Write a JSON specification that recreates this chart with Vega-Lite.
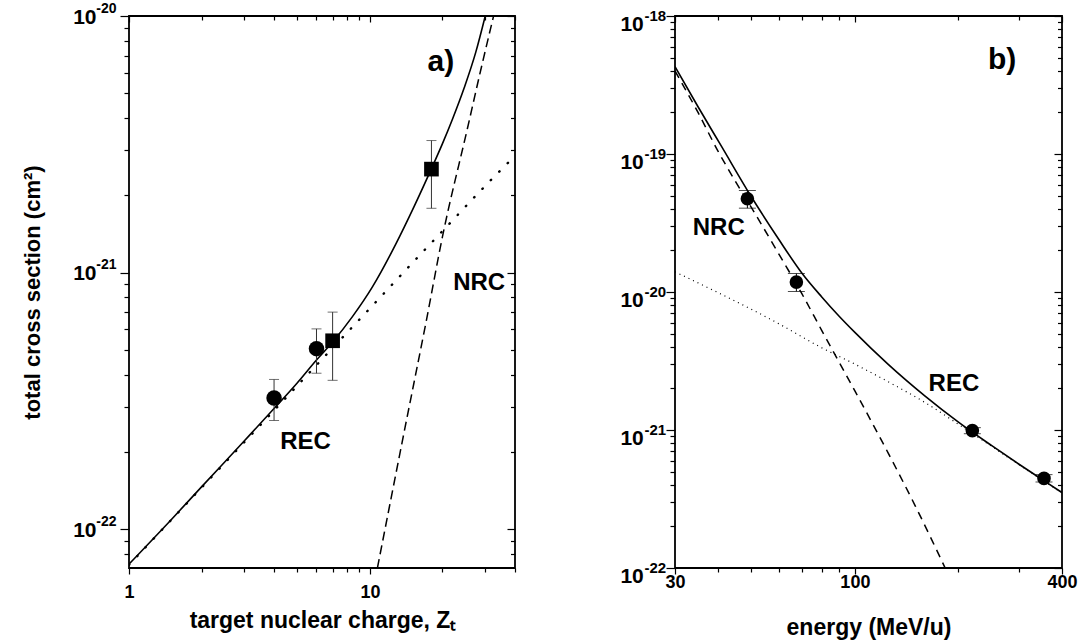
{
  "$schema": "https://vega.github.io/schema/vega-lite/v6.json",
  "background": "white",
  "padding": {"left": 20, "top": 0, "right": 5, "bottom": 0},
  "spacing": 102,
  "config": {
    "view": {"stroke": "black", "strokeWidth": 1.8},
    "axis": {"grid": false, "domain": false, "tickColor": "black", "tickWidth": 1.2, "labelColor": "black", "titleColor": "black", "labelFont": "Liberation Sans", "titleFont": "Liberation Sans", "labelFontWeight": "bold", "titleFontWeight": "bold", "labelFlush": false, "labelOverlap": false},
    "text": {"font": "Liberation Sans", "fontWeight": "bold", "color": "black"}
  },
  "datasets": {
    "a_total": [{"Z":1,"sigma":7.3e-23},{"Z":1.5,"sigma":1.09e-22},{"Z":2,"sigma":1.46e-22},{"Z":3,"sigma":2.2e-22},{"Z":4,"sigma":2.95e-22},{"Z":5,"sigma":3.72e-22},{"Z":6,"sigma":4.56e-22},{"Z":7,"sigma":5.36e-22},{"Z":8.46,"sigma":6.73e-22},{"Z":10.24,"sigma":8.79e-22},{"Z":12.8,"sigma":1.29e-21},{"Z":15.26,"sigma":1.81e-21},{"Z":18,"sigma":2.54e-21},{"Z":20,"sigma":3.18e-21},{"Z":22,"sigma":3.96e-21},{"Z":24.6,"sigma":5.24e-21},{"Z":27.5,"sigma":7.23e-21},{"Z":30.1,"sigma":1.0e-20}],
    "a_rec": [{"Z":1,"sigma":7.25e-23},{"Z":2,"sigma":1.45e-22},{"Z":4,"sigma":2.9e-22},{"Z":7,"sigma":5.08e-22},{"Z":10,"sigma":7.25e-22},{"Z":15,"sigma":1.09e-21},{"Z":20,"sigma":1.45e-21},{"Z":30,"sigma":2.17e-21},{"Z":40,"sigma":2.85e-21}],
    "a_nrc": [{"Z":10.74,"sigma":7.05e-23},{"Z":12,"sigma":1.2e-22},{"Z":14,"sigma":2.5e-22},{"Z":17.2,"sigma":6.6e-22},{"Z":20,"sigma":1.38e-21},{"Z":25.4,"sigma":3.65e-21},{"Z":29,"sigma":6.3e-21},{"Z":32.6,"sigma":1.0e-20}],
    "a_points": [{"Z":4,"sigma":3.24e-22,"lo":2.65e-22,"hi":3.83e-22,"marker":"circle"},{"Z":6,"sigma":5.05e-22,"lo":4.05e-22,"hi":6.03e-22,"marker":"circle"},{"Z":7,"sigma":5.42e-22,"lo":3.8e-22,"hi":7.01e-22,"marker":"square"},{"Z":18,"sigma":2.53e-21,"lo":1.78e-21,"hi":3.27e-21,"marker":"square"}],
    "b_total": [{"E":30,"sigma":4.3e-19},{"E":35,"sigma":2.2e-19},{"E":41,"sigma":1.13e-19},{"E":50,"sigma":4.9e-20},{"E":60,"sigma":2.42e-20},{"E":70,"sigma":1.38e-20},{"E":80,"sigma":9.25e-21},{"E":90,"sigma":6.68e-21},{"E":100,"sigma":5.1e-21},{"E":125,"sigma":2.99e-21},{"E":160,"sigma":1.76e-21},{"E":200,"sigma":1.14e-21},{"E":250,"sigma":7.7e-22},{"E":300,"sigma":5.65e-22},{"E":355,"sigma":4.28e-22},{"E":400,"sigma":3.52e-22}],
    "b_rec": [{"E":30,"sigma":1.4e-20},{"E":40,"sigma":9.9e-21},{"E":50,"sigma":7.5e-21},{"E":60,"sigma":5.9e-21},{"E":80,"sigma":3.95e-21},{"E":100,"sigma":3.0e-21},{"E":130,"sigma":2.12e-21},{"E":160,"sigma":1.58e-21},{"E":200,"sigma":1.1e-21},{"E":250,"sigma":7.6e-22},{"E":300,"sigma":5.6e-22},{"E":355,"sigma":4.25e-22},{"E":400,"sigma":3.5e-22}],
    "b_nrc": [{"E":30,"sigma":4.0e-19},{"E":35,"sigma":2.0e-19},{"E":40,"sigma":1.05e-19},{"E":45,"sigma":6.3e-20},{"E":50,"sigma":4.1e-20},{"E":60,"sigma":1.9e-20},{"E":70,"sigma":9.8e-21},{"E":80,"sigma":5.3e-21},{"E":100,"sigma":1.92e-21},{"E":125,"sigma":6.8e-22},{"E":150,"sigma":2.8e-22},{"E":183,"sigma":1.0e-22}],
    "b_points": [{"E":48.7,"sigma":4.74e-20,"lo":4.05e-20,"hi":5.44e-20},{"E":67.6,"sigma":1.18e-20,"lo":1.01e-20,"hi":1.36e-20},{"E":219.5,"sigma":9.9e-22,"lo":9.4e-22,"hi":1.04e-21},{"E":354.6,"sigma":4.46e-22,"lo":4.2e-22,"hi":4.75e-22}],
    "one": [{}]
  },
  "hconcat": [
    {
      "width": 386,
      "height": 552,
      "resolve": {"axis": {"x": "independent", "y": "independent"}},
      "layer": [
        {
          "data": {"name": "a_total"},
          "mark": {"type": "line", "color": "black", "strokeWidth": 1.6, "interpolate": "monotone", "clip": true},
          "encoding": {
            "x": {"field": "Z", "type": "quantitative", "scale": {"type": "log", "domain": [1, 40], "nice": false},
                  "axis": {"orient": "bottom", "values": [1, 10], "labelExpr": "format(datum.value, 'd')", "tickSize": 6, "labelPadding": 9, "labelFontSize": 18, "labelFlush": false, "labelOverlap": false, "title": "target nuclear charge, Z\u209c", "titleFontSize": 23, "titlePadding": 8}},
            "y": {"field": "sigma", "type": "quantitative", "scale": {"type": "log", "domain": [7.05e-23, 1e-20], "nice": false},
                  "axis": {"orient": "left", "values": [1e-22, 1e-21, 1e-20], "ticks": false, "tickSize": 0, "labelExpr": "'10'", "labelFontSize": 21, "labelPadding": 33, "labelOffset": 1, "labelFlush": false, "labelOverlap": false, "title": "total cross section (cm\u00b2)", "titleFontSize": 22, "titlePadding": 29, "minExtent": 56, "maxExtent": 56}}
          }
        },
        {
          "data": {"name": "a_rec"},
          "mark": {"type": "line", "color": "black", "strokeWidth": 2.4, "strokeDash": [0.5, 11.5], "strokeCap": "round", "interpolate": "monotone", "clip": true},
          "encoding": {
            "x": {"field": "Z", "type": "quantitative", "scale": {"type": "log", "domain": [1, 40], "nice": false},
                  "axis": {"orient": "bottom", "values": [2, 3, 4, 5, 6, 7, 8, 9, 20, 30, 40], "labels": false, "tickSize": 4, "title": null}},
            "y": {"field": "sigma", "type": "quantitative", "scale": {"type": "log", "domain": [7.05e-23, 1e-20], "nice": false},
                  "axis": {"orient": "left", "values": [1e-22, 1e-21, 1e-20], "ticks": false, "tickSize": 0, "labelExpr": "'-' + round(-log(datum.value)/LN10)", "labelFontSize": 14, "labelPadding": 13, "labelOffset": -8, "labelFlush": false, "labelOverlap": false, "title": null}}
          }
        },
        {
          "data": {"name": "a_nrc"},
          "mark": {"type": "line", "color": "black", "strokeWidth": 1.5, "strokeDash": [9, 5], "interpolate": "monotone", "clip": true},
          "encoding": {
            "x": {"field": "Z", "type": "quantitative", "scale": {"type": "log", "domain": [1, 40], "nice": false},
                  "axis": {"orient": "top", "values": [1, 10], "labels": false, "tickSize": -6, "title": null}},
            "y": {"field": "sigma", "type": "quantitative", "scale": {"type": "log", "domain": [7.05e-23, 1e-20], "nice": false},
                  "axis": {"orient": "left", "values": [1e-22, 1e-21, 1e-20], "labels": false, "tickSize": 9, "title": null}}
          }
        },
        {
          "data": {"name": "a_points"},
          "mark": {"type": "rule", "color": "#333333", "strokeWidth": 1},
          "encoding": {
            "x": {"field": "Z", "type": "quantitative", "scale": {"type": "log", "domain": [1, 40], "nice": false},
                  "axis": {"orient": "top", "values": [2, 3, 4, 5, 6, 7, 8, 9, 20, 30, 40], "labels": false, "tickSize": -4, "title": null}},
            "y": {"field": "lo", "type": "quantitative", "scale": {"type": "log", "domain": [7.05e-23, 1e-20], "nice": false},
                  "axis": {"orient": "left", "values": [8e-23, 9e-23, 2e-22, 3e-22, 4e-22, 5e-22, 6e-22, 7e-22, 8e-22, 9e-22, 2e-21, 3e-21, 4e-21, 5e-21, 6e-21, 7e-21, 8e-21, 9e-21], "labels": false, "tickSize": 5, "title": null}},
            "y2": {"field": "hi"}
          }
        },
        {
          "data": {"name": "a_points"},
          "mark": {"type": "tick", "orient": "horizontal", "color": "#333333", "size": 10, "thickness": 1},
          "encoding": {
            "x": {"field": "Z", "type": "quantitative", "scale": {"type": "log", "domain": [1, 40], "nice": false}, "axis": null},
            "y": {"field": "lo", "type": "quantitative", "scale": {"type": "log", "domain": [7.05e-23, 1e-20], "nice": false},
                  "axis": {"orient": "right", "values": [1e-22, 1e-21, 1e-20], "labels": false, "tickSize": -8, "title": null}}
          }
        },
        {
          "data": {"name": "a_points"},
          "mark": {"type": "tick", "orient": "horizontal", "color": "#333333", "size": 10, "thickness": 1},
          "encoding": {
            "x": {"field": "Z", "type": "quantitative", "scale": {"type": "log", "domain": [1, 40], "nice": false}, "axis": null},
            "y": {"field": "hi", "type": "quantitative", "scale": {"type": "log", "domain": [7.05e-23, 1e-20], "nice": false},
                  "axis": {"orient": "right", "values": [8e-23, 9e-23, 2e-22, 3e-22, 4e-22, 5e-22, 6e-22, 7e-22, 8e-22, 9e-22, 2e-21, 3e-21, 4e-21, 5e-21, 6e-21, 7e-21, 8e-21, 9e-21], "labels": false, "tickSize": -4.5, "title": null}}
          }
        },
        {
          "data": {"name": "a_points"},
          "transform": [{"filter": "datum.marker == 'circle'"}],
          "mark": {"type": "point", "shape": "circle", "filled": true, "color": "black", "opacity": 1, "size": 240},
          "encoding": {
            "x": {"field": "Z", "type": "quantitative", "scale": {"type": "log", "domain": [1, 40], "nice": false}, "axis": null},
            "y": {"field": "sigma", "type": "quantitative", "scale": {"type": "log", "domain": [7.05e-23, 1e-20], "nice": false}, "axis": null}
          }
        },
        {
          "data": {"name": "a_points"},
          "transform": [{"filter": "datum.marker == 'square'"}],
          "mark": {"type": "point", "shape": "square", "filled": true, "color": "black", "opacity": 1, "size": 215},
          "encoding": {
            "x": {"field": "Z", "type": "quantitative", "scale": {"type": "log", "domain": [1, 40], "nice": false}, "axis": null},
            "y": {"field": "sigma", "type": "quantitative", "scale": {"type": "log", "domain": [7.05e-23, 1e-20], "nice": false}, "axis": null}
          }
        },
        {
          "data": {"name": "one"},
          "mark": {"type": "text", "text": "a)", "fontSize": 30, "fontWeight": "bold", "font": "Liberation Sans", "color": "black", "align": "center", "baseline": "middle"},
          "encoding": {
            "x": {"datum": 19.7, "type": "quantitative", "scale": {"type": "log", "domain": [1, 40], "nice": false}, "axis": null},
            "y": {"datum": 6.6e-21, "type": "quantitative", "scale": {"type": "log", "domain": [7.05e-23, 1e-20], "nice": false}, "axis": null}
          }
        },
        {
          "data": {"name": "one"},
          "mark": {"type": "text", "text": "REC", "fontSize": 24, "fontWeight": "bold", "font": "Liberation Sans", "color": "black", "align": "center", "baseline": "middle"},
          "encoding": {
            "x": {"datum": 5.4, "type": "quantitative", "scale": {"type": "log", "domain": [1, 40], "nice": false}, "axis": null},
            "y": {"datum": 2.18e-22, "type": "quantitative", "scale": {"type": "log", "domain": [7.05e-23, 1e-20], "nice": false}, "axis": null}
          }
        },
        {
          "data": {"name": "one"},
          "mark": {"type": "text", "text": "NRC", "fontSize": 24, "fontWeight": "bold", "font": "Liberation Sans", "color": "black", "align": "center", "baseline": "middle"},
          "encoding": {
            "x": {"datum": 28.4, "type": "quantitative", "scale": {"type": "log", "domain": [1, 40], "nice": false}, "axis": null},
            "y": {"datum": 9.1e-22, "type": "quantitative", "scale": {"type": "log", "domain": [7.05e-23, 1e-20], "nice": false}, "axis": null}
          }
        }
      ]
    },
    {
      "width": 387,
      "height": 552,
      "resolve": {"axis": {"x": "independent", "y": "independent"}},
      "layer": [
        {
          "data": {"name": "b_total"},
          "mark": {"type": "line", "color": "black", "strokeWidth": 1.6, "interpolate": "monotone", "clip": true},
          "encoding": {
            "x": {"field": "E", "type": "quantitative", "scale": {"type": "log", "domain": [30, 400], "nice": false},
                  "axis": {"orient": "bottom", "values": [30, 100, 400], "labelExpr": "format(datum.value, 'd')", "tickSize": 6, "labelPadding": -1, "labelFontSize": 18, "labelFlush": false, "labelOverlap": false, "title": "energy (MeV/u)", "titleFontSize": 23, "titlePadding": 25}},
            "y": {"field": "sigma", "type": "quantitative", "scale": {"type": "log", "domain": [1e-22, 1e-18], "nice": false},
                  "axis": {"orient": "left", "values": [1e-22, 1e-21, 1e-20, 1e-19, 1e-18], "ticks": false, "tickSize": 0, "labelExpr": "'10'", "labelFontSize": 21, "labelPadding": 31.7, "labelOffset": 8.5, "labelFlush": false, "labelOverlap": false, "title": null}}
          }
        },
        {
          "data": {"name": "b_rec"},
          "mark": {"type": "line", "color": "black", "strokeWidth": 1.2, "strokeDash": [1, 4], "interpolate": "monotone", "clip": true},
          "encoding": {
            "x": {"field": "E", "type": "quantitative", "scale": {"type": "log", "domain": [30, 400], "nice": false},
                  "axis": {"orient": "bottom", "values": [40, 50, 60, 70, 80, 90, 200, 300], "labels": false, "tickSize": 4, "title": null}},
            "y": {"field": "sigma", "type": "quantitative", "scale": {"type": "log", "domain": [1e-22, 1e-18], "nice": false},
                  "axis": {"orient": "left", "values": [1e-22, 1e-21, 1e-20, 1e-19, 1e-18], "ticks": false, "tickSize": 0, "labelExpr": "'-' + round(-log(datum.value)/LN10)", "labelFontSize": 15, "labelPadding": 9.3, "labelOffset": -1, "labelFlush": false, "labelOverlap": false, "title": null}}
          }
        },
        {
          "data": {"name": "b_nrc"},
          "mark": {"type": "line", "color": "black", "strokeWidth": 1.5, "strokeDash": [8, 6], "interpolate": "monotone", "clip": true},
          "encoding": {
            "x": {"field": "E", "type": "quantitative", "scale": {"type": "log", "domain": [30, 400], "nice": false},
                  "axis": {"orient": "top", "values": [30, 100, 400], "labels": false, "tickSize": -6, "title": null}},
            "y": {"field": "sigma", "type": "quantitative", "scale": {"type": "log", "domain": [1e-22, 1e-18], "nice": false},
                  "axis": {"orient": "left", "values": [1e-22, 1e-21, 1e-20, 1e-19, 1e-18], "labels": false, "tickSize": 9, "title": null}}
          }
        },
        {
          "data": {"name": "b_points"},
          "mark": {"type": "rule", "color": "black", "strokeWidth": 1},
          "encoding": {
            "x": {"field": "E", "type": "quantitative", "scale": {"type": "log", "domain": [30, 400], "nice": false},
                  "axis": {"orient": "top", "values": [40, 50, 60, 70, 80, 90, 200, 300], "labels": false, "tickSize": -4, "title": null}},
            "y": {"field": "lo", "type": "quantitative", "scale": {"type": "log", "domain": [1e-22, 1e-18], "nice": false},
                  "axis": {"orient": "left", "values": [2e-22, 3e-22, 4e-22, 5e-22, 6e-22, 7e-22, 8e-22, 9e-22, 2e-21, 3e-21, 4e-21, 5e-21, 6e-21, 7e-21, 8e-21, 9e-21, 2e-20, 3e-20, 4e-20, 5e-20, 6e-20, 7e-20, 8e-20, 9e-20, 2e-19, 3e-19, 4e-19, 5e-19, 6e-19, 7e-19, 8e-19, 9e-19], "labels": false, "tickSize": 5, "title": null}},
            "y2": {"field": "hi"}
          }
        },
        {
          "data": {"name": "b_points"},
          "mark": {"type": "tick", "orient": "horizontal", "color": "black", "size": 17, "thickness": 1},
          "encoding": {
            "x": {"field": "E", "type": "quantitative", "scale": {"type": "log", "domain": [30, 400], "nice": false}, "axis": null},
            "y": {"field": "lo", "type": "quantitative", "scale": {"type": "log", "domain": [1e-22, 1e-18], "nice": false},
                  "axis": {"orient": "right", "values": [1e-22, 1e-21, 1e-20, 1e-19, 1e-18], "labels": false, "tickSize": -8, "title": null}}
          }
        },
        {
          "data": {"name": "b_points"},
          "mark": {"type": "tick", "orient": "horizontal", "color": "black", "size": 17, "thickness": 1},
          "encoding": {
            "x": {"field": "E", "type": "quantitative", "scale": {"type": "log", "domain": [30, 400], "nice": false}, "axis": null},
            "y": {"field": "hi", "type": "quantitative", "scale": {"type": "log", "domain": [1e-22, 1e-18], "nice": false},
                  "axis": {"orient": "right", "values": [2e-22, 3e-22, 4e-22, 5e-22, 6e-22, 7e-22, 8e-22, 9e-22, 2e-21, 3e-21, 4e-21, 5e-21, 6e-21, 7e-21, 8e-21, 9e-21, 2e-20, 3e-20, 4e-20, 5e-20, 6e-20, 7e-20, 8e-20, 9e-20, 2e-19, 3e-19, 4e-19, 5e-19, 6e-19, 7e-19, 8e-19, 9e-19], "labels": false, "tickSize": -4.5, "title": null}}
          }
        },
        {
          "data": {"name": "b_points"},
          "mark": {"type": "point", "shape": "circle", "filled": true, "color": "black", "opacity": 1, "size": 185},
          "encoding": {
            "x": {"field": "E", "type": "quantitative", "scale": {"type": "log", "domain": [30, 400], "nice": false}, "axis": null},
            "y": {"field": "sigma", "type": "quantitative", "scale": {"type": "log", "domain": [1e-22, 1e-18], "nice": false}, "axis": null}
          }
        },
        {
          "data": {"name": "one"},
          "mark": {"type": "text", "text": "b)", "fontSize": 30, "fontWeight": "bold", "font": "Liberation Sans", "color": "black", "align": "center", "baseline": "middle"},
          "encoding": {
            "x": {"datum": 268, "type": "quantitative", "scale": {"type": "log", "domain": [30, 400], "nice": false}, "axis": null},
            "y": {"datum": 4.8e-19, "type": "quantitative", "scale": {"type": "log", "domain": [1e-22, 1e-18], "nice": false}, "axis": null}
          }
        },
        {
          "data": {"name": "one"},
          "mark": {"type": "text", "text": "NRC", "fontSize": 24, "fontWeight": "bold", "font": "Liberation Sans", "color": "black", "align": "center", "baseline": "middle"},
          "encoding": {
            "x": {"datum": 40.2, "type": "quantitative", "scale": {"type": "log", "domain": [30, 400], "nice": false}, "axis": null},
            "y": {"datum": 2.9e-20, "type": "quantitative", "scale": {"type": "log", "domain": [1e-22, 1e-18], "nice": false}, "axis": null}
          }
        },
        {
          "data": {"name": "one"},
          "mark": {"type": "text", "text": "REC", "fontSize": 24, "fontWeight": "bold", "font": "Liberation Sans", "color": "black", "align": "center", "baseline": "middle"},
          "encoding": {
            "x": {"datum": 194, "type": "quantitative", "scale": {"type": "log", "domain": [30, 400], "nice": false}, "axis": null},
            "y": {"datum": 2.14e-21, "type": "quantitative", "scale": {"type": "log", "domain": [1e-22, 1e-18], "nice": false}, "axis": null}
          }
        }
      ]
    }
  ]
}
